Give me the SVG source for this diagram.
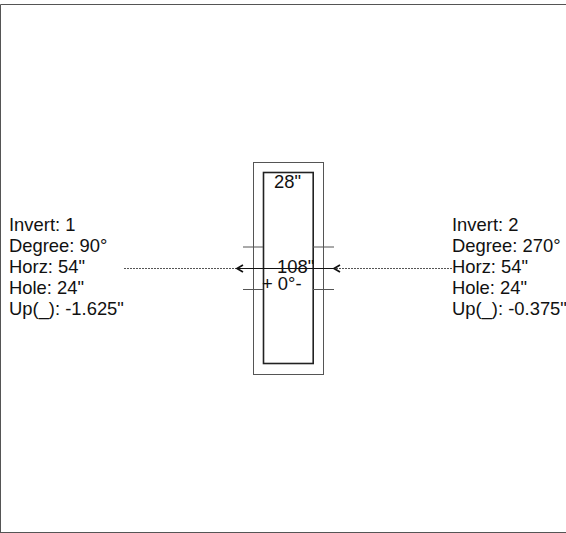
<svg xmlns="http://www.w3.org/2000/svg" width="566" height="533" viewBox="0 0 566 533">
<style>
text{font-family:"Liberation Sans",Arial,sans-serif;font-size:18.4px;fill:#111}
.thin{fill:none;stroke:#555;stroke-width:1}
.thick{fill:none;stroke:#222;stroke-width:1.6}
.line{fill:none;stroke:#111;stroke-width:1}
.dot{stroke:#555;stroke-width:1;stroke-dasharray:2 1;fill:none}
.ah{fill:none;stroke:#111;stroke-width:1.7}
</style>
<rect width="566" height="533" fill="#fff"/>
<path d="M0.500 533V4.500H566M0 532.500H566" class="thin"/>
<g id="structure">
<rect x="253.500" y="162.500" width="70" height="212" class="thin"/>
<rect x="263.500" y="172.500" width="49.700" height="191" class="thick"/>
<text x="274" y="188">28"</text>
<text x="277" y="273">108"</text>
<text x="262" y="290">+ 0°-</text>
</g>
<g id="connectors">
<path d="M243 247H263M313 247H334M243 289.500H263M313 289.500H334" class="thin"/>
<path d="M237 268.500H333" class="line"/>
<path d="M124 268.500H237M333 268.500H452" class="dot"/>
<path d="M243 265L237 268.500L243 272M340 265L334 268.500L340 272" class="ah"/>
</g>
<g id="invert-1">
<text x="9" y="231">Invert: 1</text>
<text x="9" y="252">Degree: 90°</text>
<text x="9" y="273">Horz: 54"</text>
<text x="9" y="294">Hole: 24"</text>
<text x="9" y="315">Up(_): -1.625"</text>
</g>
<g id="invert-2">
<text x="452" y="231">Invert: 2</text>
<text x="452" y="252">Degree: 270°</text>
<text x="452" y="273">Horz: 54"</text>
<text x="452" y="294">Hole: 24"</text>
<text x="452" y="315">Up(_): -0.375"</text>
</g>
</svg>
